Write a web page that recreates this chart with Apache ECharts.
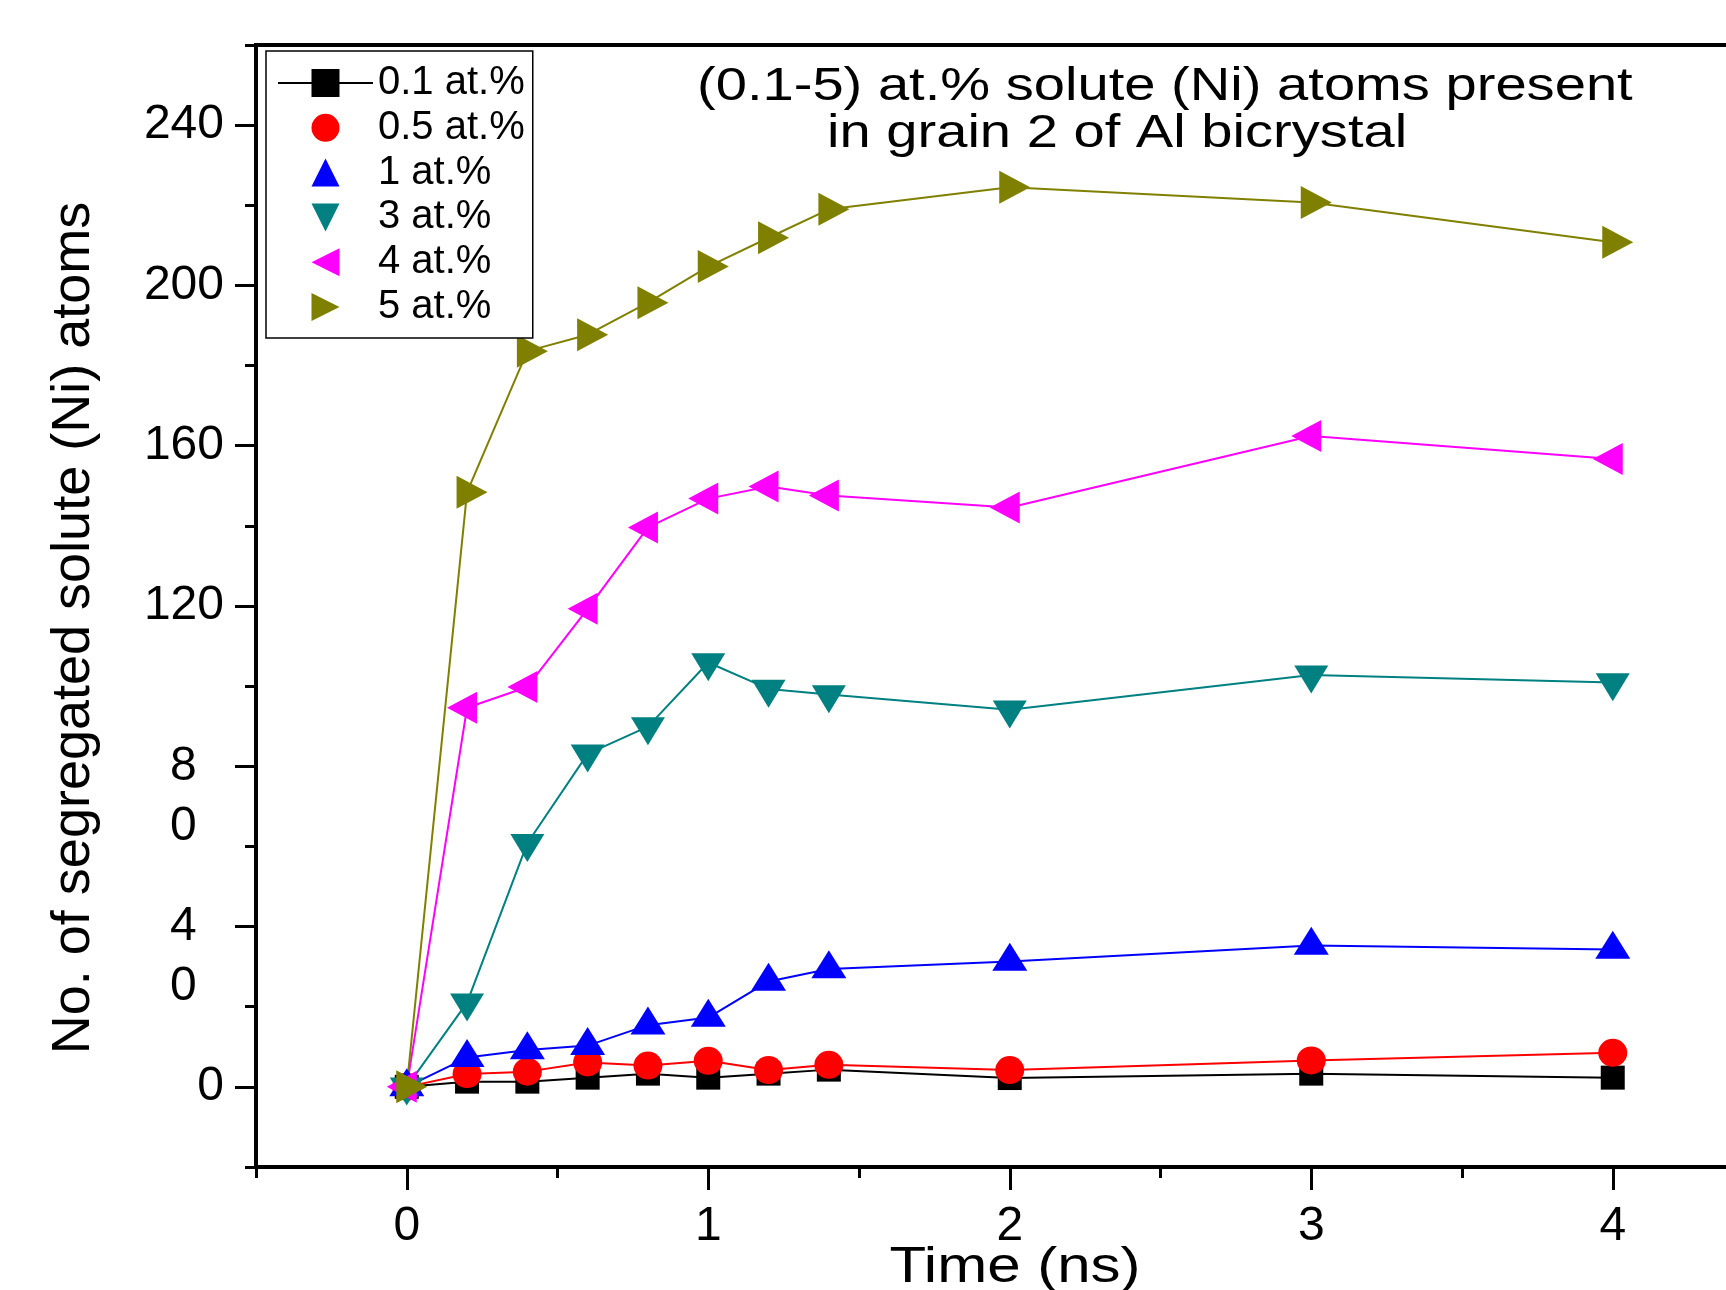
<!DOCTYPE html>
<html>
<head>
<meta charset="utf-8">
<title>Segregated Ni solute atoms vs time</title>
<script src="https://cdn.jsdelivr.net/npm/echarts@6/dist/echarts.min.js"></script>
<style>
  html, body { margin: 0; padding: 0; background: #fff; }
  #chart { width: 1726px; height: 1290px; }
</style>
</head>
<body>
<div id="chart"></div>
<script>
// Simulation times (ns)
const times = [0, 0.2, 0.4, 0.6, 0.8, 1.0, 1.2, 1.4, 2, 3, 4];

// Number of segregated Ni atoms for each solute concentration
const at01 = [0, 1.3, 1.3, 2.3, 3.3, 2.3, 3.3, 4.3, 2.2, 3.3, 2.3];
const at05 = [0, 3.2, 3.8, 6.1, 5.3, 6.5, 4.2, 5.5, 4.2, 6.6, 8.5];
const at1  = [0, 7.3, 9.2, 10.3, 15.4, 17.3, 26.3, 29.4, 31.3, 35.3, 34.3];
const at3  = [0, 21.0, 60.8, 83.1, 89.9, 105.9, 99.3, 97.9, 94.1, 102.8, 100.9];
const at4  = [0, 94.6, 99.8, 119.3, 139.6, 146.8, 149.8, 147.6, 144.6, 162.4, 156.7];
const at5  = [0, 148.4, 183.6, 187.7, 195.7, 204.7, 211.9, 219.0, 224.5, 220.7, 210.8];

const seriesNames = ['0.1 at.%', '0.5 at.%', '1 at.%', '3 at.%', '4 at.%', '5 at.%'];

// Axis ticks and labels
const xMajor = [0, 1, 2, 3, 4];
const xMinor = [-0.5, 0.5, 1.5, 2.5, 3.5, 4.5];
const yMajor = [0, 40, 80, 120, 160, 200, 240];
const yMinor = [-20, 20, 60, 100, 140, 180, 220, 260];
const yWrapped = [40, 80];   // these labels are printed one digit per line

const FONT = '"Liberation Sans", Arial, Helvetica, sans-serif';

const chart = echarts.init(document.getElementById('chart'), null, { renderer: 'canvas' });

function pairs(ys) { return times.map((t, i) => [t, ys[i]]); }

function lineSeries(name, ys, color, symbol, size, rotate, offset) {
  return {
    name: name,
    type: 'line',
    data: pairs(ys),
    symbol: symbol,
    symbolSize: size,
    symbolRotate: rotate,
    symbolOffset: offset,
    showSymbol: true,
    showAllSymbol: true,
    clip: false,
    lineStyle: { color: color, width: 2 },
    itemStyle: { color: color, borderWidth: 0 },
    emphasis: { disabled: true }
  };
}

const option = {
  backgroundColor: '#ffffff',
  animation: false,
  grid: {
    left: 256, top: 45, width: 1507.5, height: 1122,
    outerBoundsMode: 'none', containLabel: false,
    show: true, borderColor: '#000', borderWidth: 4, backgroundColor: 'transparent'
  },
  xAxis: [
    {
      type: 'value', min: -0.5, max: 4.5, position: 'bottom',
      axisLine: { show: true, onZero: false, lineStyle: { color: '#000', width: 4 } },
      axisTick: { show: true, inside: false, customValues: xMajor, length: 23, lineStyle: { color: '#000', width: 3 } },
      axisLabel: {
        show: true, customValues: xMajor, margin: 36,
        color: '#000', fontSize: 48, fontFamily: FONT,
        formatter: v => String(v)
      },
      splitLine: { show: false }
    },
    {
      type: 'value', min: -0.5, max: 4.5, position: 'bottom',
      axisLine: { show: false, onZero: false },
      axisTick: { show: true, inside: false, customValues: xMinor, length: 11, lineStyle: { color: '#000', width: 3 } },
      axisLabel: { show: false },
      splitLine: { show: false }
    }
  ],
  yAxis: [
    {
      type: 'value', min: -20, max: 260, position: 'left',
      axisLine: { show: true, onZero: false, lineStyle: { color: '#000', width: 4 } },
      axisTick: { show: true, inside: false, customValues: yMajor, length: 21, lineStyle: { color: '#000', width: 3 } },
      axisLabel: {
        show: true, customValues: yMajor, margin: 32,
        color: '#000', fontSize: 48, fontFamily: FONT,
        lineHeight: 60, verticalAlign: 'top', padding: [-30, 0, 0, 0],
        formatter: v => yWrapped.indexOf(v) >= 0
          ? String(v).split('').map(c => '{w|' + c + '}').join('\n')
          : String(v),
        rich: {
          w: { width: 54, align: 'left', fontSize: 48, fontFamily: FONT, color: '#000', lineHeight: 60 }
        }
      },
      splitLine: { show: false }
    },
    {
      type: 'value', min: -20, max: 260, position: 'left',
      axisLine: { show: false, onZero: false },
      axisTick: { show: true, inside: false, customValues: yMinor, length: 11, lineStyle: { color: '#000', width: 3 } },
      axisLabel: { show: false },
      splitLine: { show: false }
    }
  ],
  legend: {
    orient: 'vertical',
    left: 266, top: 51,
    padding: [12, 8, 11, 11],
    itemWidth: 95, itemHeight: 35, itemGap: 4.8,
    borderColor: '#000', borderWidth: 1.5,
    backgroundColor: '#fff',
    selectedMode: false,
    textStyle: { color: '#000', fontSize: 40, lineHeight: 40, fontFamily: FONT },
    data: seriesNames.map((n, i) => i === 0
      ? { name: n }
      : { name: n, lineStyle: { opacity: 0 } })
  },
  series: [
    lineSeries(seriesNames[0], at01, '#000000', 'rect', [24, 24], 0, [0, 0]),
    lineSeries(seriesNames[1], at05, '#ff0000', 'circle', [29, 28], 0, [0, 0]),
    lineSeries(seriesNames[2], at1, '#0000ff', 'triangle', [35, 28], 0, [0, -4.7]),
    lineSeries(seriesNames[3], at3, '#008080', 'triangle', [34, 28], 180, [0, 4.7]),
    lineSeries(seriesNames[4], at4, '#ff00ff', 'triangle', [32, 30], 90, [-5, 0]),
    lineSeries(seriesNames[5], at5, '#808000', 'triangle', [33, 31], -90, [5, 0])
  ],
  graphic: [
    {
      type: 'text', x: 74, y: 628, rotation: Math.PI / 2, silent: true,
      style: {
        text: 'No. of segregated solute (Ni) atoms',
        font: '54px ' + FONT, fill: '#000',
        align: 'center', verticalAlign: 'middle',
        textAlign: 'center', textVerticalAlign: 'middle'
      }
    },
    {
      type: 'text', x: 697, y: 87, scaleX: 1.22, silent: true,
      style: {
        text: '(0.1-5) at.% solute (Ni) atoms present',
        font: '46px ' + FONT, fill: '#000',
        align: 'left', verticalAlign: 'middle',
        textAlign: 'left', textVerticalAlign: 'middle'
      }
    },
    {
      type: 'text', x: 827, y: 134, scaleX: 1.22, silent: true,
      style: {
        text: 'in grain 2 of Al bicrystal',
        font: '46px ' + FONT, fill: '#000',
        align: 'left', verticalAlign: 'middle',
        textAlign: 'left', textVerticalAlign: 'middle'
      }
    },
    {
      type: 'text', x: 1015, y: 1268, scaleX: 1.2, silent: true,
      style: {
        text: 'Time (ns)',
        font: '50px ' + FONT, fill: '#000',
        align: 'center', verticalAlign: 'middle',
        textAlign: 'center', textVerticalAlign: 'middle'
      }
    }
  ]
};

chart.setOption(option);
</script>
</body>
</html>
